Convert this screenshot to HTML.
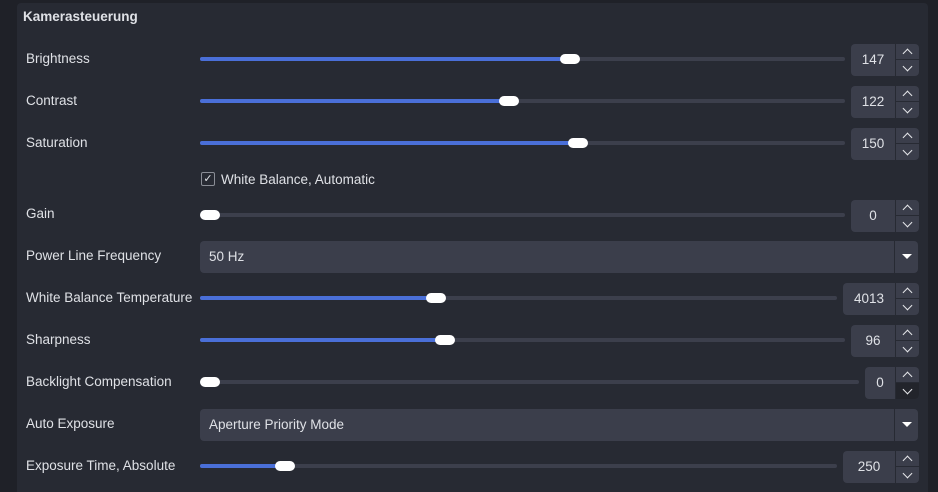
<!DOCTYPE html>
<html><head><meta charset="utf-8"><style>
html,body{margin:0;width:938px;height:492px;overflow:hidden}
body{background:#1f2128;position:relative;font-family:"Liberation Sans","DejaVu Sans",sans-serif;color:#dfe1e6;font-size:13.5px}
.panel{position:absolute;left:17px;top:3px;width:911px;height:489px;background:#272a33;border-radius:4px 4px 0 0}
.t{position:absolute;font-size:13.5px;white-space:nowrap}
.tr{position:absolute;height:4px;border-radius:2px;background:#3c3f4c}
.fl{position:absolute;height:4px;border-radius:2px;background:#4a6fd8;left:200px}
.h{position:absolute;width:20px;height:10px;border-radius:5px;background:#fff}
.sp{position:absolute;height:32px;border-radius:4px;background:#3b3e4b;right:19px}
.sp .v{position:absolute;left:0;right:24px;top:8px;text-align:center}
.sp .d{position:absolute;right:23px;top:0;bottom:0;width:1px;background:#272a33}
.sp .m{position:absolute;right:0;width:23px;top:15px;height:1px;background:#272a33}
.sp .u,.sp .w{position:absolute;right:8px;width:6px;height:6px;border-left:1.5px solid #e6e7ea;border-top:1.5px solid #e6e7ea}
.sp .u{top:6px;transform:rotate(45deg)}
.sp .w{top:19px;transform:rotate(225deg)}
.cb{position:absolute;left:200px;width:718px;height:32px;border-radius:4px;background:#3b3e4b}
.cb .d{position:absolute;right:23px;top:0;bottom:0;width:1px;background:#272a33}
.cb .a{position:absolute;right:6px;top:13px;width:0;height:0;border-left:5px solid transparent;border-right:5px solid transparent;border-top:5px solid #fff}
.cb .v{position:absolute;left:9px;top:8px}
</style></head><body>
<div class="panel"></div>
<div class="t" style="left:23px;top:9px;font-weight:bold">Kamerasteuerung</div>

<div class="t" style="left:26px;top:51px">Brightness</div>
<div class="tr" style="left:200px;top:57px;width:645px"></div><div class="fl" style="top:57px;width:370px"></div><div class="h" style="left:560px;top:54px"></div>
<div class="sp" style="left:851px;top:44px"><div class="v">147</div><div class="d"></div><div class="m"></div><div class="u"></div><div class="w"></div></div>

<div class="t" style="left:26px;top:93px">Contrast</div>
<div class="tr" style="left:200px;top:99px;width:645px"></div><div class="fl" style="top:99px;width:309px"></div><div class="h" style="left:499px;top:96px"></div>
<div class="sp" style="left:851px;top:86px"><div class="v">122</div><div class="d"></div><div class="m"></div><div class="u"></div><div class="w"></div></div>

<div class="t" style="left:26px;top:135px">Saturation</div>
<div class="tr" style="left:200px;top:141px;width:645px"></div><div class="fl" style="top:141px;width:378px"></div><div class="h" style="left:568px;top:138px"></div>
<div class="sp" style="left:851px;top:128px"><div class="v">150</div><div class="d"></div><div class="m"></div><div class="u"></div><div class="w"></div></div>

<div style="position:absolute;left:201px;top:172px;width:12px;height:12px;border:1px solid #8a8d96;border-radius:2px;font-size:11px;line-height:12px;text-align:center">✓</div>
<div class="t" style="left:221px;top:172px">White Balance, Automatic</div>

<div class="t" style="left:26px;top:206px">Gain</div>
<div class="tr" style="left:200px;top:213px;width:645px"></div><div class="h" style="left:200px;top:210px"></div>
<div class="sp" style="left:851px;top:200px"><div class="v">0</div><div class="d"></div><div class="m"></div><div class="u"></div><div class="w"></div></div>

<div class="t" style="left:26px;top:248px">Power Line Frequency</div>
<div class="cb" style="top:241px"><div class="v">50 Hz</div><div class="d"></div><div class="a"></div></div>

<div class="t" style="left:26px;top:290px">White Balance Temperature</div>
<div class="tr" style="left:200px;top:296px;width:637px"></div><div class="fl" style="top:296px;width:236px"></div><div class="h" style="left:426px;top:293px"></div>
<div class="sp" style="left:843px;top:283px"><div class="v">4013</div><div class="d"></div><div class="m"></div><div class="u"></div><div class="w"></div></div>

<div class="t" style="left:26px;top:332px">Sharpness</div>
<div class="tr" style="left:200px;top:338px;width:645px"></div><div class="fl" style="top:338px;width:245px"></div><div class="h" style="left:435px;top:335px"></div>
<div class="sp" style="left:851px;top:325px"><div class="v">96</div><div class="d"></div><div class="m"></div><div class="u"></div><div class="w"></div></div>

<div class="t" style="left:26px;top:374px">Backlight Compensation</div>
<div class="tr" style="left:200px;top:380px;width:659px"></div><div class="h" style="left:200px;top:377px"></div>
<div class="sp" style="left:865px;top:367px"><div style="position:absolute;right:0;top:16px;width:23px;height:16px;background:#22242b;border-radius:0 0 4px 0"></div><div class="v">0</div><div class="d"></div><div class="m"></div><div class="u"></div><div class="w"></div></div>

<div class="t" style="left:26px;top:416px">Auto Exposure</div>
<div class="cb" style="top:409px"><div class="v">Aperture Priority Mode</div><div class="d"></div><div class="a"></div></div>

<div class="t" style="left:26px;top:458px">Exposure Time, Absolute</div>
<div class="tr" style="left:200px;top:464px;width:637px"></div><div class="fl" style="top:464px;width:85px"></div><div class="h" style="left:275px;top:461px"></div>
<div class="sp" style="left:843px;top:451px"><div class="v">250</div><div class="d"></div><div class="m"></div><div class="u"></div><div class="w"></div></div>
</body></html>
